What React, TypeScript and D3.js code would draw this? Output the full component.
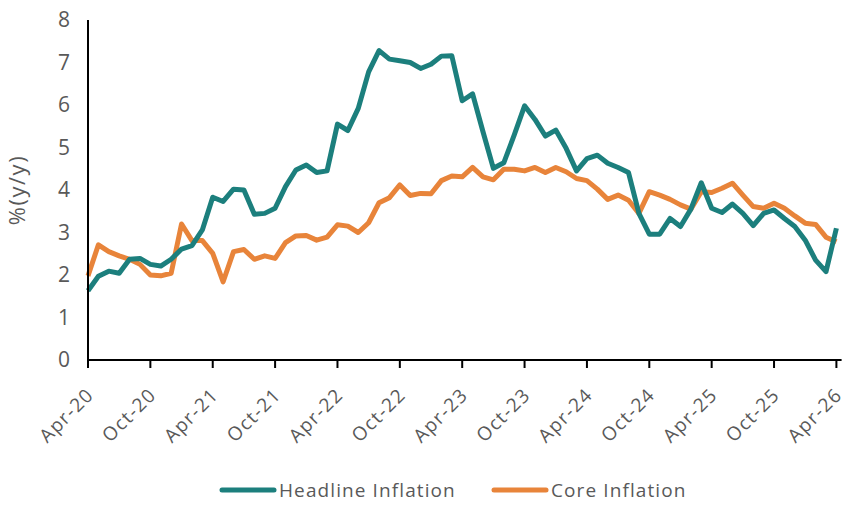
import React, { useEffect, useRef } from 'react'
import * as d3 from 'd3'

// monthly, Apr-20 .. Apr-26
const monthNames = ['Jan', 'Feb', 'Mar', 'Apr', 'May', 'Jun', 'Jul', 'Aug', 'Sep', 'Oct', 'Nov', 'Dec']
const months: string[] = []
for (let i = 0; i <= 72; i++) {
    const m = (3 + i) % 12
    const y = 20 + Math.floor((3 + i) / 12)
    months.push(monthNames[m] + '-' + y)
}

const headline = [
    1.63, 1.97, 2.09, 2.04, 2.37, 2.39, 2.25, 2.21, 2.37, 2.61, 2.69, 3.06,
    3.83, 3.73, 4.02, 4.0, 3.43, 3.45, 3.57, 4.08, 4.47, 4.59, 4.41, 4.45,
    5.55, 5.4, 5.92, 6.78, 7.28, 7.08, 7.04, 7.0, 6.86, 6.96, 7.15, 7.16,
    6.1, 6.26, 5.37, 4.51, 4.64, 5.29, 5.98, 5.66, 5.27, 5.41, 4.98, 4.45,
    4.74, 4.82, 4.63, 4.53, 4.41, 3.45, 2.96, 2.96, 3.33, 3.14, 3.55, 4.17,
    3.57, 3.47, 3.67, 3.45, 3.16, 3.45, 3.53, 3.33, 3.14, 2.82, 2.35, 2.08,
    3.1
]

const core = [
    1.98, 2.71, 2.55, 2.45, 2.37, 2.25, 2.0, 1.98, 2.04, 3.2, 2.81, 2.81,
    2.51, 1.84, 2.55, 2.6, 2.37, 2.45, 2.39, 2.76, 2.92, 2.93, 2.82, 2.89,
    3.18, 3.15, 3.0, 3.23, 3.7, 3.82, 4.12, 3.87, 3.92, 3.91, 4.22, 4.33,
    4.31, 4.53, 4.31, 4.24, 4.49, 4.49, 4.45, 4.53, 4.41, 4.53, 4.43, 4.27,
    4.22, 4.02, 3.78, 3.88, 3.76, 3.45, 3.96, 3.88, 3.78, 3.65, 3.55, 3.96,
    3.94, 4.04, 4.16, 3.88, 3.61, 3.57, 3.69, 3.57, 3.39, 3.22, 3.19, 2.89,
    2.78
]

const yTicks = [0, 1, 2, 3, 4, 5, 6, 7, 8]

const TEAL = '#1c7f7d'
const ORANGE = '#e8843a'
const GREY = '#595959'
const FONT = '"Open Sans", "Noto Sans", sans-serif'

function App() {
    const chartRef = useRef(null)

    useEffect(() => {
        drawChart()
    }, [])

    function drawChart() {
        const width = 860, height = 512
        const left = 88, right = 836.4, top = 20, bottom = 360

        d3.select(chartRef.current).selectAll('*').remove()

        const svg = d3.select(chartRef.current)
            .append('svg')
            .attr('width', width)
            .attr('height', height)
            .style('position', 'absolute')
            .style('left', 0)
            .style('top', 0)
            .style('font-family', FONT)

        const x = d3.scaleLinear().domain([0, months.length - 1]).range([left, right])
        const y = d3.scaleLinear().domain([0, 8]).range([bottom, top])

        // y labels
        svg.append('g')
            .selectAll('text')
            .data(yTicks)
            .enter()
            .append('text')
            .attr('x', 70)
            .attr('y', d => y(d))
            .attr('dy', '0.35em')
            .attr('text-anchor', 'end')
            .attr('fill', GREY)
            .attr('font-size', 21)
            .text(d => d)

        svg.append('text')
            .attr('transform', 'translate(25,' + (top + bottom) / 2 + ') rotate(-90)')
            .attr('text-anchor', 'middle')
            .attr('fill', GREY)
            .attr('font-size', 22)
            .attr('letter-spacing', 1.5)
            .text('%(y/y)')

        // lines
        const line = d3.line<number>()
            .x((d, i) => x(i))
            .y(d => y(d))

        svg.append('path')
            .datum(core)
            .attr('d', line)
            .attr('fill', 'none')
            .attr('stroke', ORANGE)
            .attr('stroke-width', 5)
            .attr('stroke-linejoin', 'round')

        svg.append('path')
            .datum(headline)
            .attr('d', line)
            .attr('fill', 'none')
            .attr('stroke', TEAL)
            .attr('stroke-width', 5)
            .attr('stroke-linejoin', 'round')

        // axes
        svg.append('line')
            .attr('x1', left).attr('x2', left)
            .attr('y1', top).attr('y2', bottom)
            .attr('stroke', '#000').attr('stroke-width', 2)

        svg.append('line')
            .attr('x1', left).attr('x2', x(72.5))
            .attr('y1', bottom).attr('y2', bottom)
            .attr('stroke', '#000').attr('stroke-width', 2)

        const tickIdx = months.map((m, i) => i).filter(i => i % 6 === 0)

        svg.append('g')
            .selectAll('line')
            .data(tickIdx)
            .enter()
            .append('line')
            .attr('x1', d => x(d)).attr('x2', d => x(d))
            .attr('y1', bottom).attr('y2', bottom + 8)
            .attr('stroke', '#000').attr('stroke-width', 2)

        svg.append('g')
            .selectAll('text')
            .data(tickIdx)
            .enter()
            .append('text')
            .attr('transform', d => 'translate(' + (x(d) + 7) + ',' + (bottom + 36) + ') rotate(-45)')
            .attr('text-anchor', 'end')
            .attr('fill', GREY)
            .attr('font-size', 19)
            .attr('letter-spacing', 1.4)
            .text(d => months[d])

        // legend
        const legend = [
            { name: 'Headline Inflation', color: TEAL, x: 222 },
            { name: 'Core Inflation', color: ORANGE, x: 494 }
        ]
        const lg = svg.append('g')
        lg.selectAll('line')
            .data(legend)
            .enter()
            .append('line')
            .attr('x1', d => d.x).attr('x2', d => d.x + 52)
            .attr('y1', 490).attr('y2', 490)
            .attr('stroke', d => d.color)
            .attr('stroke-width', 5)
            .attr('stroke-linecap', 'round')
        lg.selectAll('text')
            .data(legend)
            .enter()
            .append('text')
            .attr('x', d => d.x + 57)
            .attr('y', 490)
            .attr('dy', '0.35em')
            .attr('fill', GREY)
            .attr('font-size', 19)
            .attr('letter-spacing', 1.1)
            .text(d => d.name)
    }

    return (
        <div>
            <div ref={chartRef}></div>
        </div>
    )
}

export default App
